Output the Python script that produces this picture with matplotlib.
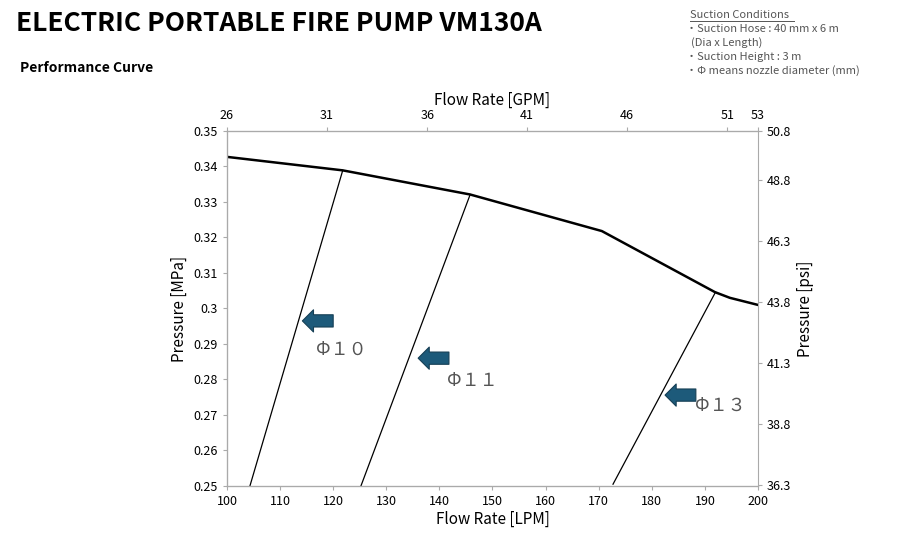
import matplotlib
matplotlib.use("Agg")
import matplotlib.pyplot as plt

plt.rcParams['font.family'] = ['Noto Sans CJK JP', 'DejaVu Sans']

pump_lpm = [100, 121.8, 145.8, 170.6, 191.9, 194.7, 200]
pump_mpa = [0.3427, 0.3389, 0.3321, 0.3218, 0.3046, 0.3030, 0.3010]
n10_lpm = [121.8, 104.3]; n10_mpa = [0.3389, 0.2499]
n11_lpm = [145.8, 125.2]; n11_mpa = [0.3321, 0.2499]
n13_lpm = [192.0, 172.7]; n13_mpa = [0.3046, 0.2505]
x_ticks = list(range(100, 201, 10))
y_ticks = [0.25, 0.26, 0.27, 0.28, 0.29, 0.30, 0.31, 0.32, 0.33, 0.34, 0.35]
y_labels = ["0.25", "0.26", "0.27", "0.28", "0.29", "0.3", "0.31", "0.32", "0.33", "0.34", "0.35"]
gpm_labels = [26, 31, 36, 41, 46, 51, 53]
gpm_pos = [100, 118.8, 137.7, 156.5, 175.3, 194.2, 200]
psi_labels = [36.3, 38.8, 41.3, 43.8, 46.3, 48.8, 50.8]
arrow_label = ["Φ１０", "Φ１１", "Φ１３"]
arrow_tip = [(114.2, 0.2965), (136.0, 0.2860), (182.5, 0.2756)]
label_pos = [(121.6, 0.2883), (146.2, 0.2797), (193.0, 0.2727)]

fig = plt.figure(figsize=(9, 5.5), dpi=100)
ax = fig.add_axes([0.2522, 0.1164, 0.59, 0.6455])
ax.plot(pump_lpm, pump_mpa, color='black', lw=1.8)
for xs, ys in [(n10_lpm, n10_mpa), (n11_lpm, n11_mpa), (n13_lpm, n13_mpa)]:
    ax.plot(xs, ys, color='black', lw=0.9)
ax.set_xlim(100, 200); ax.set_ylim(0.25, 0.35)
ax.set_xticks(x_ticks); ax.set_yticks(y_ticks); ax.set_yticklabels(y_labels)
ax.set_xlabel("Flow Rate [LPM]", fontsize=11, labelpad=2)
ax.set_ylabel("Pressure [MPa]", fontsize=11)
for tx, ty in arrow_tip:
    ax.annotate('', xy=(tx, ty), xytext=(tx + 5.8, ty),
                arrowprops=dict(arrowstyle='simple,head_width=1.0,head_length=0.5,tail_width=0.55',
                                mutation_scale=16, fc='#1d5a7a', ec='#163f55', lw=0.8,
                                shrinkA=0, shrinkB=0))
for (lx, ly), lab in zip(label_pos, arrow_label):
    ax.text(lx, ly, lab, fontsize=13, color='#555555', ha='center', va='center')

top = ax.twiny()
top.set_xlim(100, 200); top.set_xticks(gpm_pos); top.set_xticklabels([str(g) for g in gpm_labels])
top.set_xlabel("Flow Rate [GPM]", fontsize=11, labelpad=3)
right = ax.twinx()
right.set_ylim(0.25 * 145.04, 0.35 * 145.04)
right.set_yticks(psi_labels); right.set_yticklabels([str(p) for p in psi_labels])
right.set_ylabel("Pressure [psi]", fontsize=11)

for a in (ax, top, right):
    for s in a.spines.values():
        s.set_color('#aaaaaa')
    a.tick_params(labelsize=9, color='#aaaaaa', length=3)
ax.spines['right'].set_visible(False); top.spines['right'].set_visible(False)

fig.text(0.018, 0.957, "ELECTRIC PORTABLE FIRE PUMP VM130A", fontsize=19, fontweight='bold', va='center')
fig.text(0.022, 0.876, "Performance Curve", fontsize=10, fontweight='bold', va='center')
fig.text(0.767, 0.973, "Suction Conditions", fontsize=8, color='#555555', va='center')
fig.add_artist(plt.Line2D([0.767, 0.882], [0.961, 0.961], color='#555555', lw=0.7))
side = ["・Suction Hose : 40 mm x 6 m", "  (Dia x Length)", "・Suction Height : 3 m", "・Φ means nozzle diameter (mm)"]
for i, s in enumerate(side):
    fig.text(0.762, 0.947 - i * 0.025, s, fontsize=8, color='#555555', va='center')

fig.savefig("out.png", dpi=100)
